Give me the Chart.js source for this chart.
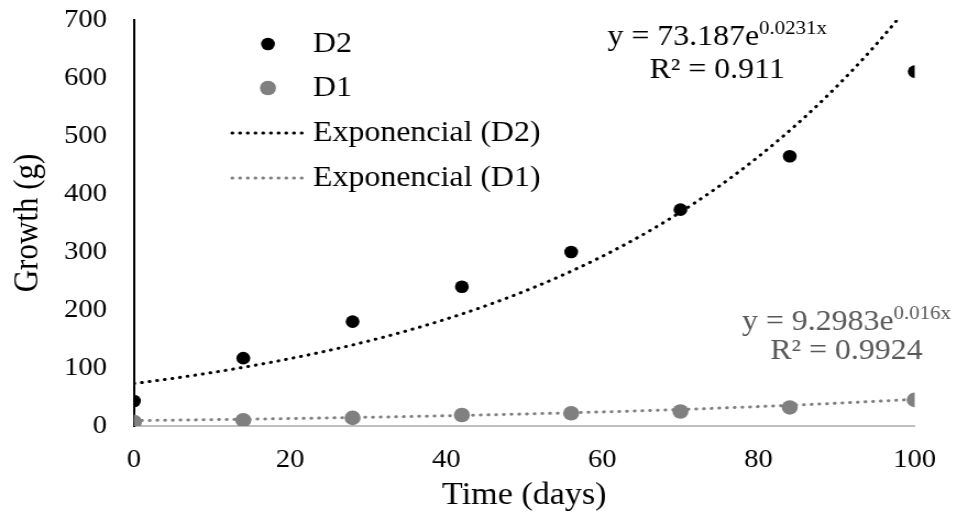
<!DOCTYPE html>
<html>
<head>
<meta charset="utf-8">
<script src="https://cdn.jsdelivr.net/npm/chart.js@4.4.1/dist/chart.umd.min.js"></script>
<style>
  body { margin: 0; background: #fff; }
</style>
</head>
<body>
<canvas id="growth-chart" width="870" height="517" style="width:957px;height:517px;display:block"></canvas>
<script>
var days = [0, 14, 28, 42, 56, 70, 84, 100];
var d2Growth = [43, 117, 180, 240, 300, 373, 465, 611];
var d1Growth = [7, 10, 14, 19, 22, 25, 32, 45];

// exponential trendlines, coefficients as printed on the chart: y = a * e^(b*x)
var d2Fit = { a: 73.187, b: 0.0231, eq: '73.187e', exp: '0.0231x', r2: '0.911' };
var d1Fit = { a: 9.2983, b: 0.016, eq: '9.2983e', exp: '0.016x', r2: '0.9924' };

var serif = "'Liberation Serif', 'Times New Roman', serif";
var gray = '#808080';

function toPoints(xs, ys) {
  var pts = [];
  for (let i = 0; i < xs.length; i++) {
    pts.push({ x: xs[i], y: ys[i] });
  }
  return pts;
};

function trendPoints(fit) {
  var pts = [];
  for (let x = 0; x <= 100; x++) {
    pts.push({ x: x, y: fit.a * Math.exp(fit.b * x) });
  }
  return pts;
};

// legend + trendline equations, drawn on top of the plot
var labelsPlugin = {
  id: 'labels',
  afterDraw: function(chart) {
    const ctx = chart.ctx;
    ctx.save();
    ctx.textBaseline = 'middle';
    ctx.textAlign = 'left';
    ctx.font = '29px ' + serif;
    ctx.fillStyle = '#000';

    // legend
    const rows = [44, 88, 133, 178];
    ctx.beginPath();
    ctx.arc(243.6, rows[0], 6.3, 0, Math.PI * 2);
    ctx.fillStyle = '#000';
    ctx.fill();
    ctx.beginPath();
    ctx.arc(243.6, rows[1], 7.3, 0, Math.PI * 2);
    ctx.fillStyle = gray;
    ctx.fill();

    ctx.lineWidth = 3;
    ctx.lineCap = 'round';
    ctx.setLineDash([0.5, 6.5]);
    ctx.strokeStyle = '#000';
    ctx.beginPath();
    ctx.moveTo(211, rows[2]);
    ctx.lineTo(275, rows[2]);
    ctx.stroke();
    ctx.strokeStyle = gray;
    ctx.beginPath();
    ctx.moveTo(211, rows[3]);
    ctx.lineTo(275, rows[3]);
    ctx.stroke();
    ctx.setLineDash([]);

    ctx.fillStyle = '#000';
    ctx.fillText('D2', 284.5, rows[0]);
    ctx.fillText('D1', 284.5, rows[1]);
    ctx.fillText('Exponencial (D2)', 284.5, rows[2]);
    ctx.fillText('Exponencial (D1)', 284.5, rows[3]);

    // equations
    function equation(fit, cx, y1, y2, color) {
      ctx.fillStyle = color;
      ctx.textBaseline = 'alphabetic';
      ctx.font = '29px ' + serif;
      const main = 'y = ' + fit.eq;
      const wMain = ctx.measureText(main).width;
      ctx.font = '19px ' + serif;
      const wExp = ctx.measureText(fit.exp).width;
      let x0 = cx - (wMain + wExp) / 2;
      ctx.font = '29px ' + serif;
      ctx.textAlign = 'left';
      ctx.fillText(main, x0, y1);
      ctx.font = '19px ' + serif;
      ctx.fillText(fit.exp, x0 + wMain, y1 - 11);
      ctx.font = '29px ' + serif;
      ctx.textAlign = 'center';
      ctx.fillText('R\u00b2 = ' + fit.r2, cx, y2);
      ctx.textAlign = 'left';
    };
    equation(d2Fit, 652, 45, 78, '#000');
    equation(d1Fit, 769.5, 330, 359, '#595959');

    ctx.restore();
  }
};

function growthChart(id) {
  const ctx = document.getElementById(id);

  return new Chart(ctx, {
    type: 'scatter',
    data: {
      datasets: [{
        label: 'D2',
        data: toPoints(days, d2Growth),
        backgroundColor: '#000',
        borderColor: '#000',
        pointRadius: 6.3,
        pointBorderWidth: 0
      }, {
        label: 'D1',
        data: toPoints(days, d1Growth),
        backgroundColor: gray,
        borderColor: gray,
        pointRadius: 7.3,
        pointBorderWidth: 0
      }, {
        label: 'Exponencial (D2)',
        type: 'line',
        data: trendPoints(d2Fit),
        borderColor: '#000',
        borderWidth: 3,
        borderDash: [0.5, 6.5],
        borderCapStyle: 'round',
        pointRadius: 0,
        fill: false
      }, {
        label: 'Exponencial (D1)',
        type: 'line',
        data: trendPoints(d1Fit),
        borderColor: gray,
        borderWidth: 3,
        borderDash: [0.5, 6.5],
        borderCapStyle: 'round',
        pointRadius: 0,
        fill: false
      }]
    },
    options: {
      responsive: false,
      animation: false,
      layout: {
        padding: { left: 0, right: 35.5, top: 0, bottom: 0 }
      },
      scales: {
        x: {
          type: 'linear',
          min: 0,
          max: 100,
          afterFit: function(scale) { scale.height = 91; },
          grid: { display: false, drawTicks: false },
          border: { display: true, color: '#bfbfbf', width: 2 },
          ticks: {
            stepSize: 20,
            padding: 19,
            color: '#000',
            font: { family: serif, size: 26 }
          },
          title: {
            display: true,
            text: 'Time (days)',
            color: '#000',
            font: { family: serif, size: 31 },
            padding: { top: 0, bottom: 3 }
          }
        },
        y: {
          min: 0,
          max: 700,
          afterFit: function(scale) {
            scale.width = 121.8;
            scale.paddingTop = 20;
            scale.paddingBottom = 0;
          },
          grid: { display: false, drawTicks: false },
          border: { display: true, color: '#000', width: 2 },
          ticks: {
            stepSize: 100,
            padding: 24.5,
            color: '#000',
            font: { family: serif, size: 26 }
          },
          title: {
            display: true,
            text: 'Growth (g)',
            color: '#000',
            font: { family: serif, size: 31 },
            padding: { top: 7, bottom: 0 }
          }
        }
      },
      plugins: {
        legend: { display: false },
        tooltip: { enabled: false }
      }
    },
    plugins: [labelsPlugin]
  });
};

growthChart('growth-chart');
</script>
</body>
</html>
